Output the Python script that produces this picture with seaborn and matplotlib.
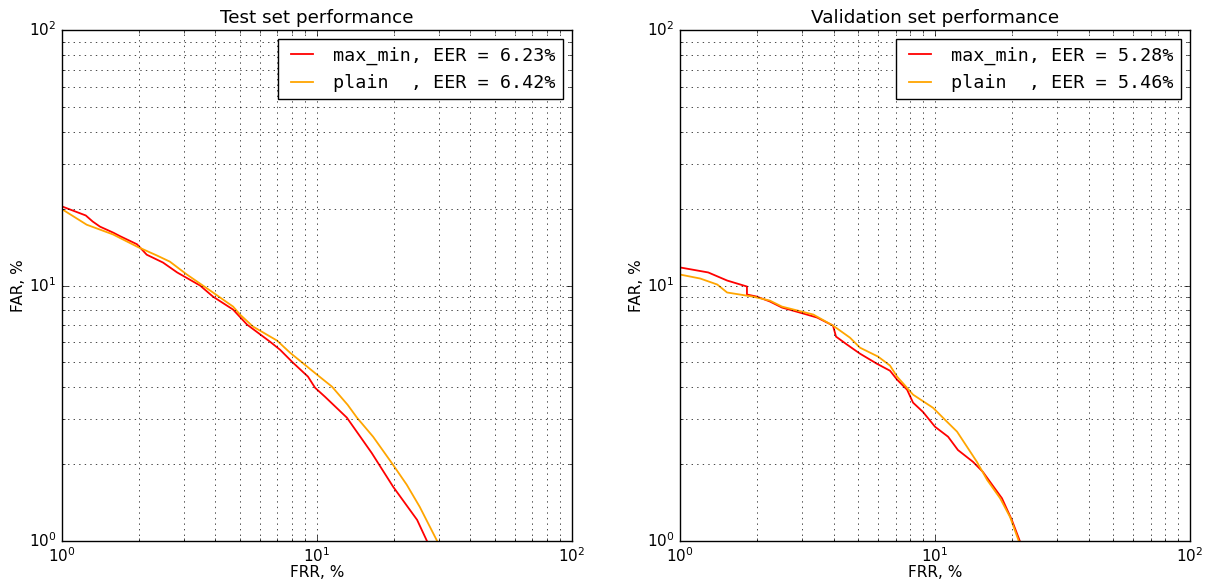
import matplotlib
matplotlib.use('Agg')
import matplotlib.pyplot as plt
import seaborn as sns
import pandas as pd

# ---------------- data (FRR %, FAR %) ----------------
test_maxmin_frr = [1.0, 1.24, 1.32, 1.41, 1.59, 1.69, 1.97, 2.15, 2.49, 2.83, 3.48, 3.91,
                   4.69, 5.32, 6.54, 7.16, 8.05, 9.22, 9.83, 10.75, 13.1, 16.4, 19.9, 24.7, 27.0]
test_maxmin_far = [20.4, 18.8, 17.8, 17.0, 16.1, 15.6, 14.5, 13.2, 12.3, 11.25, 10.0, 9.05,
                   8.05, 7.03, 6.03, 5.61, 4.99, 4.40, 3.98, 3.67, 3.04, 2.21, 1.63, 1.21, 1.0]
test_plain_frr = [1.0, 1.25, 1.585, 1.97, 2.36, 2.65, 3.09, 3.91, 4.69, 4.99, 5.61, 6.97,
                  7.84, 10.0, 11.45, 13.2, 14.35, 16.6, 19.86, 22.5, 25.3, 29.6]
test_plain_far = [19.9, 17.3, 15.85, 14.2, 13.1, 12.4, 11.04, 9.39, 8.27, 7.70, 6.91, 6.09,
                  5.46, 4.48, 4.02, 3.41, 3.04, 2.56, 1.99, 1.66, 1.36, 1.0]

val_maxmin_frr = [1.0, 1.29, 1.53, 1.83, 1.83, 2.0, 2.25, 2.51, 3.04, 3.45, 3.98, 4.09, 4.52,
                  5.08, 5.92, 6.66, 7.10, 7.77, 8.20, 8.97, 10.0, 11.25, 12.3, 14.1, 15.4,
                  16.9, 18.3, 20.0, 21.5]
val_maxmin_far = [11.77, 11.25, 10.46, 9.91, 9.22, 9.05, 8.66, 8.20, 7.77, 7.49, 6.97, 6.31,
                  5.87, 5.41, 4.94, 4.64, 4.28, 3.91, 3.48, 3.20, 2.80, 2.56, 2.27, 2.04,
                  1.865, 1.64, 1.47, 1.21, 1.0]
val_plain_frr = [1.0, 1.2, 1.4, 1.53, 1.93, 2.25, 2.51, 3.33, 3.98, 4.64, 5.08, 5.98, 6.66,
                 7.10, 8.20, 9.83, 10.95, 12.2, 14.6, 16.0, 18.0, 19.7, 21.3]
val_plain_far = [11.04, 10.65, 10.09, 9.39, 9.05, 8.73, 8.27, 7.70, 6.97, 6.25, 5.71, 5.27,
                 4.86, 4.40, 3.74, 3.32, 2.98, 2.68, 2.04, 1.735, 1.47, 1.24, 1.0]

models = ["max_min", "plain"]
test_labels = ["max_min, EER = 6.23%", "plain  , EER = 6.42%"]
val_labels = ["max_min, EER = 5.28%", "plain  , EER = 5.46%"]
titles = ["Test set performance", "Validation set performance"]

# ---------------- style ----------------
plt.style.use('classic')
plt.rcParams['figure.facecolor'] = 'white'
plt.rcParams['savefig.facecolor'] = 'white'
plt.rcParams['font.size'] = 11
plt.rcParams['font.family'] = ['DejaVu Sans']

palette = {"max_min": "#ff0000", "plain": "#ffa500"}

fig = plt.figure(figsize=(12.1, 5.84), dpi=100)
ax1 = fig.add_axes([0.0512, 0.0736, 0.4215, 0.875])
ax2 = fig.add_axes([0.562, 0.0736, 0.4215, 0.875])


def make_df(fr1, fa1, fr2, fa2):
    d1 = pd.DataFrame({"FRR": fr1, "FAR": fa1, "model": models[0]})
    d2 = pd.DataFrame({"FRR": fr2, "FAR": fa2, "model": models[1]})
    return pd.concat([d1, d2], ignore_index=True)


panels = [
    (ax1, make_df(test_maxmin_frr, test_maxmin_far, test_plain_frr, test_plain_far), test_labels, titles[0]),
    (ax2, make_df(val_maxmin_frr, val_maxmin_far, val_plain_frr, val_plain_far), val_labels, titles[1]),
]

for ax, df, labels, title in panels:
    sns.lineplot(data=df, x="FRR", y="FAR", hue="model", palette=palette,
                 estimator=None, sort=False, ax=ax, legend=False, linewidth=1.3)
    ax.set_xscale('log')
    ax.set_yscale('log')
    ax.set_xlim(1, 100)
    ax.set_ylim(1, 100)
    ax.grid(True, which='both', linestyle=':', color='k', linewidth=0.5)
    ax.set_axisbelow(False)
    ax.set_title(title, fontsize=13.2)
    ax.set_xlabel("FRR, %", labelpad=0)
    ax.set_ylabel("FAR, %", labelpad=2)
    lines = ax.get_lines()[:2]
    ax.legend(lines, labels, loc='upper right',
              prop={'family': 'DejaVu Sans Mono', 'size': 13.2},
              fancybox=False, framealpha=1.0, handlelength=1.8)

fig.savefig("out.png", dpi=100)
